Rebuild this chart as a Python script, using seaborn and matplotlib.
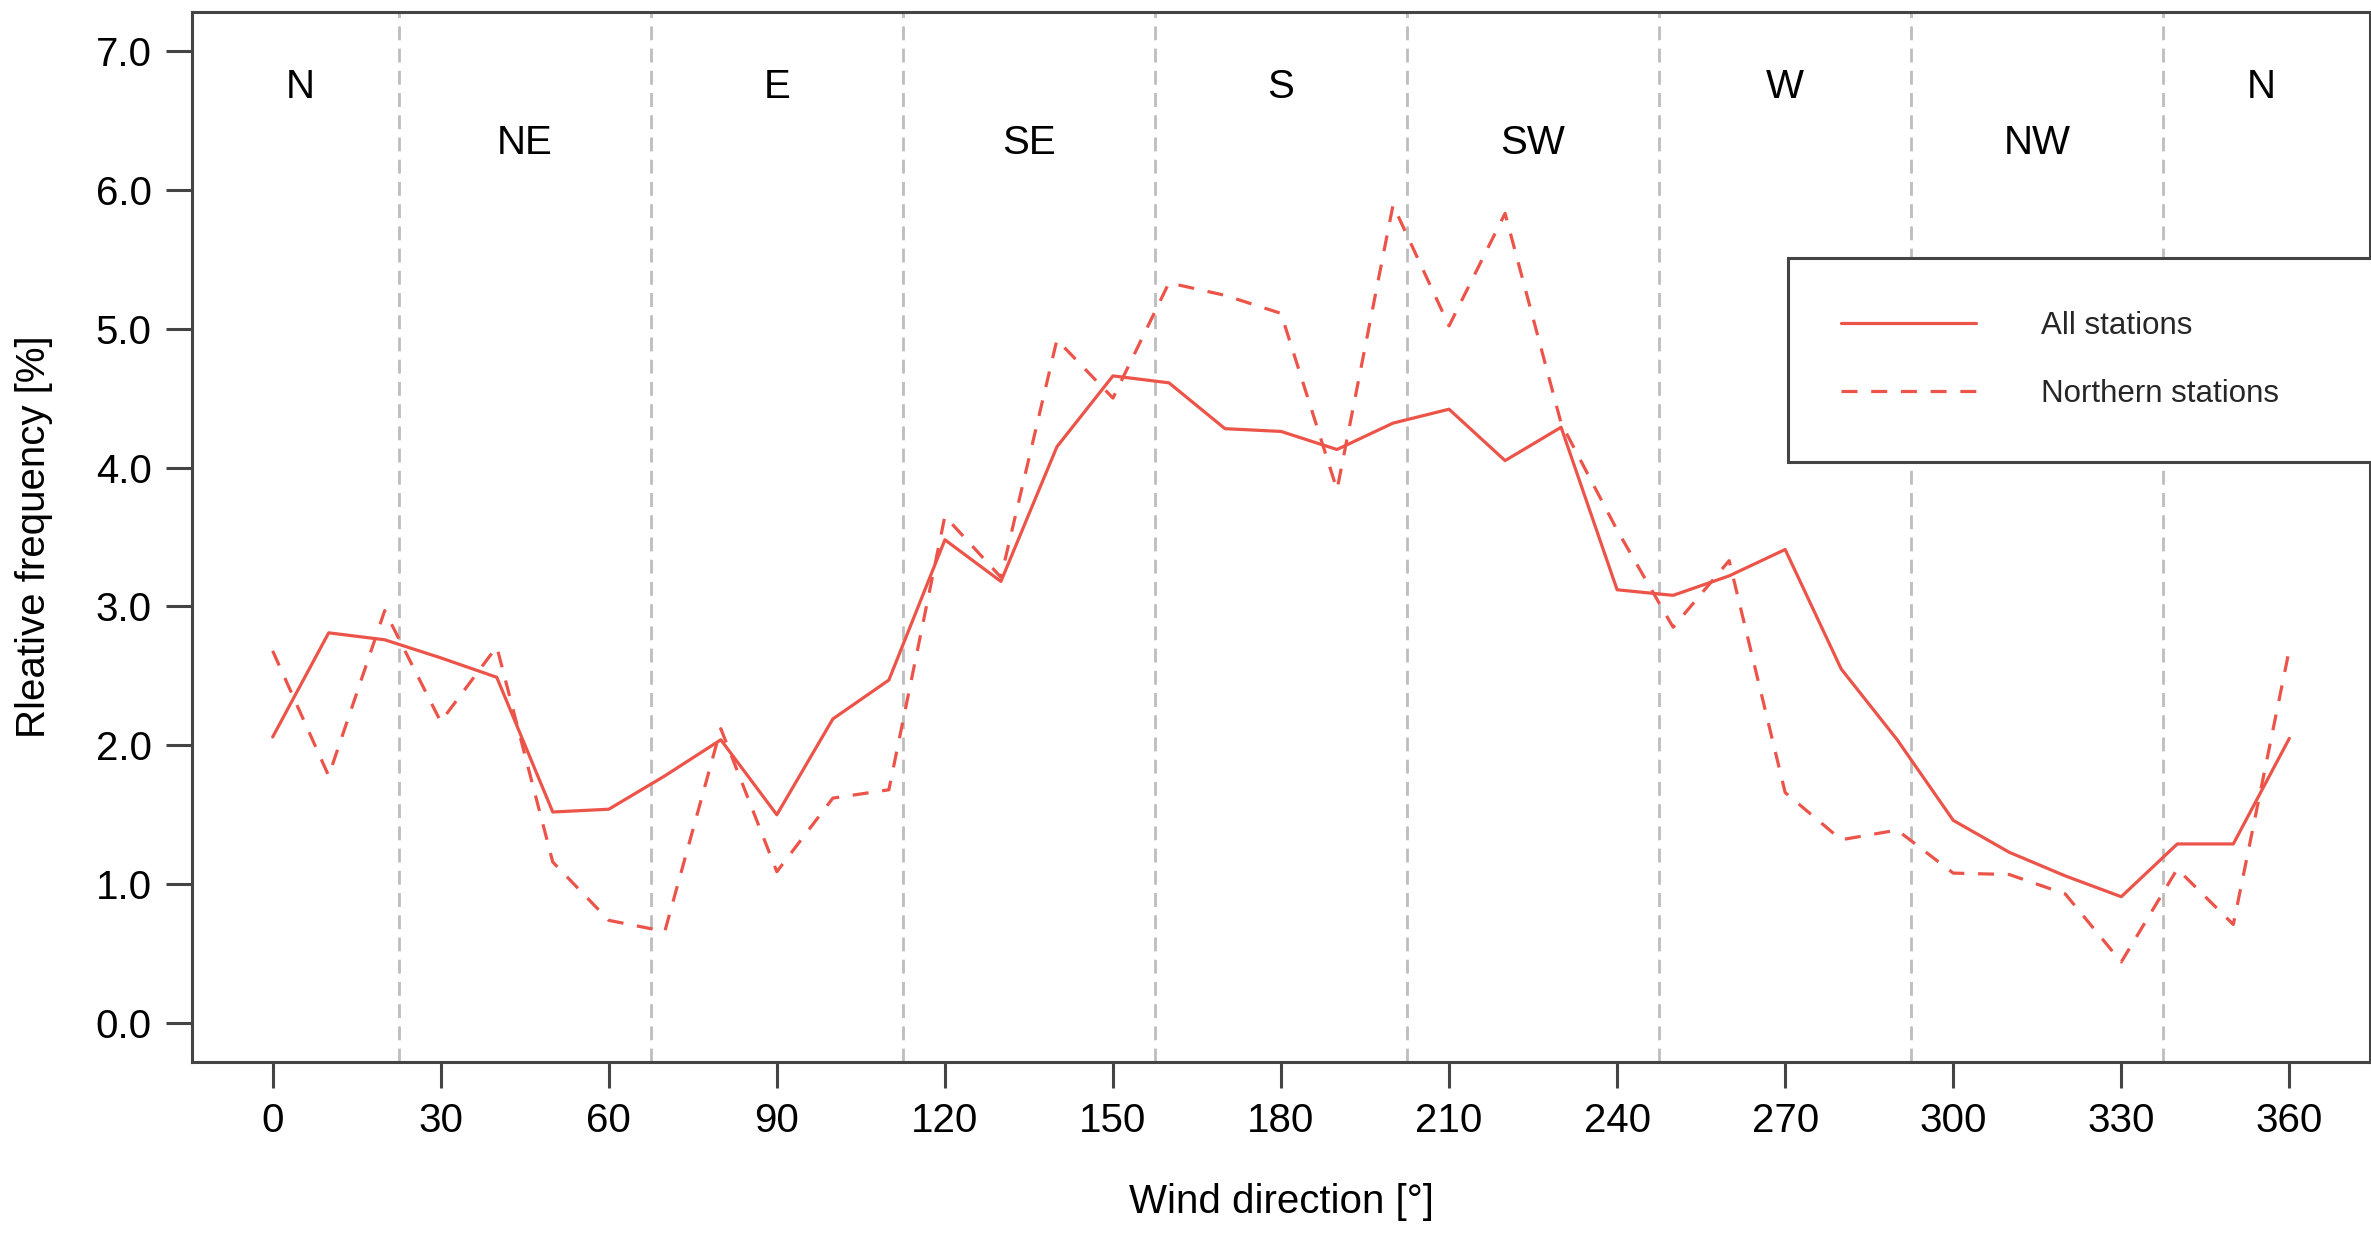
import numpy as np
import pandas as pd
import matplotlib.pyplot as plt
import seaborn as sns

# ─── DATA ──────────────────────────────────────────────────────────────────────
DIRECTIONS = list(range(0, 361, 10))

ALL_STATIONS = [
    2.06, 2.81, 2.76, 2.63, 2.49, 1.52, 1.54, 1.78, 2.04, 1.50,
    2.19, 2.47, 3.48, 3.18, 4.15, 4.66, 4.61, 4.28, 4.26, 4.13,
    4.32, 4.42, 4.05, 4.29, 3.12, 3.08, 3.22, 3.41, 2.55, 2.04,
    1.46, 1.23, 1.06, 0.91, 1.29, 1.29, 2.05,
]
NORTHERN_STATIONS = [
    2.68, 1.78, 2.97, 2.17, 2.71, 1.16, 0.74, 0.66, 2.12, 1.09,
    1.62, 1.68, 3.65, 3.21, 4.92, 4.50, 5.33, 5.24, 5.11, 3.84,
    5.89, 5.02, 5.83, 4.32, 3.55, 2.85, 3.33, 1.66, 1.32, 1.39,
    1.08, 1.07, 0.93, 0.44, 1.11, 0.71, 2.69,
]
SERIES = ["All stations", "Northern stations"]

SECTOR_BOUNDS = [22.5, 67.5, 112.5, 157.5, 202.5, 247.5, 292.5, 337.5]
SECTOR_NAMES = ["N", "NE", "E", "SE", "S", "SW", "W", "NW", "N"]
SECTOR_POS = [5, 45, 90, 135, 180, 225, 270, 315, 355]

X_TICKS = list(range(0, 361, 30))
Y_TICKS = [0, 1, 2, 3, 4, 5, 6, 7]

# ─── STYLE ─────────────────────────────────────────────────────────────────────
sns.set_theme(style="ticks")
plt.rcParams["font.family"] = ["Liberation Sans", "DejaVu Sans"]
RED = "#EC5449"
GRID_GRAY = "#BDBDBD"
AXIS_COLOR = "#444444"
FS = 29


def main():
    df = pd.concat([
        pd.DataFrame({"Direction": DIRECTIONS, "Frequency": ALL_STATIONS, "Series": SERIES[0]}),
        pd.DataFrame({"Direction": DIRECTIONS, "Frequency": NORTHERN_STATIONS, "Series": SERIES[1]}),
    ])

    fig = plt.figure(figsize=(23.71, 12.38), dpi=100)
    ax = fig.add_axes([192 / 2371, 176 / 1238, 2178 / 2371, 1050 / 1238])

    # sector boundaries
    for b in SECTOR_BOUNDS:
        ax.axvline(b, color=GRID_GRAY, linestyle=(0, (5, 3)), linewidth=2.0, zorder=1)

    sns.lineplot(
        data=df, x="Direction", y="Frequency", hue="Series", style="Series",
        palette={SERIES[0]: RED, SERIES[1]: RED},
        dashes={SERIES[0]: "", SERIES[1]: (5, 4.3)},
        linewidth=2.3, errorbar=None, legend=False, ax=ax, zorder=2,
    )
    handles = ax.lines[-2:]

    for name, pos, row in zip(SECTOR_NAMES, SECTOR_POS, range(len(SECTOR_NAMES))):
        ax.text(pos, 6.74 if row % 2 == 0 else 6.34, name, ha="center", va="center",
                fontsize=FS, color="black")

    ax.set_xlim(-14.4, 374.4)
    ax.set_ylim(-0.28, 7.28)
    ax.set_xticks(X_TICKS)
    ax.set_xticklabels([str(t) for t in X_TICKS])
    ax.set_yticks(Y_TICKS)
    ax.set_yticklabels([f"{t:.1f}" for t in Y_TICKS])
    ax.tick_params(axis="both", labelsize=FS, length=19, width=2.2, color=AXIS_COLOR,
                   pad=10, labelcolor="black")

    for sp in ax.spines.values():
        sp.set_color(AXIS_COLOR)
        sp.set_linewidth(2.2)

    ax.set_xlabel("Wind direction [°]", fontsize=FS, color="black")
    ax.set_ylabel("Rleative frequency [%]", fontsize=FS, color="black")
    ax.xaxis.set_label_coords(0.5, -0.115)
    ax.yaxis.set_label_coords(-0.064, 0.5)

    leg = ax.legend(
        handles, SERIES, loc="upper left",
        bbox_to_anchor=(0.7328, 0.7657 - 0.3, 0.29, 0.3), mode="expand",
        borderaxespad=0, fontsize=22.5, frameon=True, fancybox=False,
        handlelength=4.3, handletextpad=2.1, labelspacing=1.2, borderpad=1.7,
    )
    leg.get_frame().set_edgecolor(AXIS_COLOR)
    leg.get_frame().set_linewidth(2.2)
    leg.get_frame().set_facecolor("white")
    leg.get_frame().set_alpha(1)
    leg.set_zorder(5)

    fig.savefig("out.png", dpi=100)


if __name__ == "__main__":
    main()
